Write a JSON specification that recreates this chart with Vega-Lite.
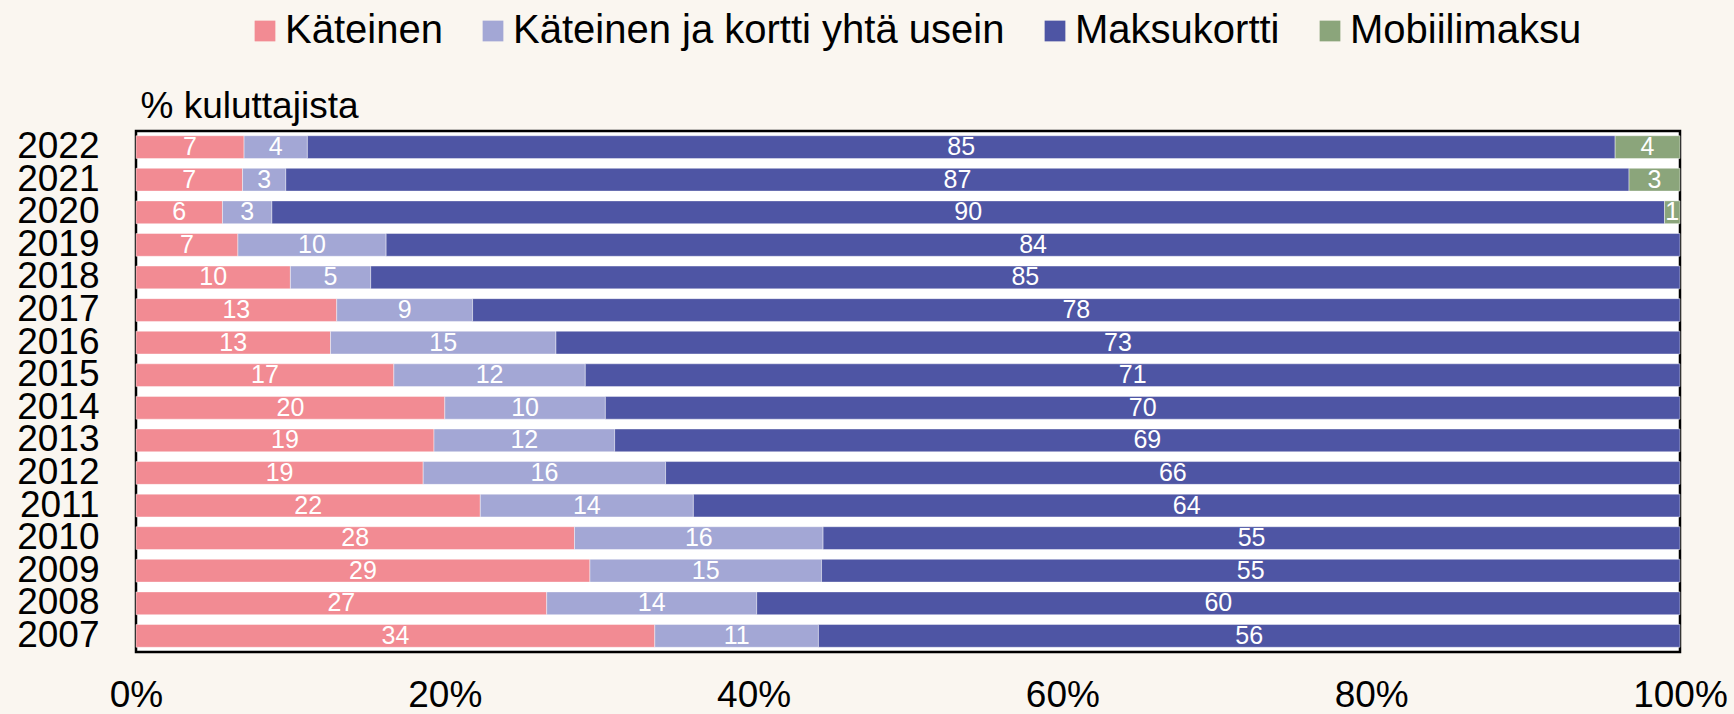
{
  "$schema": "https://vega.github.io/schema/vega-lite/v6.json",
  "autosize": {"type": "none"},
  "width": 1544,
  "height": 521,
  "padding": {"left": 136, "top": 131, "right": 54, "bottom": 62},
  "background": "#faf6f0",
  "config": {
    "font": "Liberation Sans",
    "view": {"fill": "white", "stroke": "black", "strokeWidth": 2.5}
  },
  "data": {
    "values": [
      {"year": "2022", "method": "Käteinen", "value": 7.0, "label": "7"},
      {"year": "2022", "method": "Käteinen ja kortti yhtä usein", "value": 4.1, "label": "4"},
      {"year": "2022", "method": "Maksukortti", "value": 84.7, "label": "85"},
      {"year": "2022", "method": "Mobiilimaksu", "value": 4.2, "label": "4"},
      {"year": "2021", "method": "Käteinen", "value": 6.9, "label": "7"},
      {"year": "2021", "method": "Käteinen ja kortti yhtä usein", "value": 2.8, "label": "3"},
      {"year": "2021", "method": "Maksukortti", "value": 87.0, "label": "87"},
      {"year": "2021", "method": "Mobiilimaksu", "value": 3.3, "label": "3"},
      {"year": "2020", "method": "Käteinen", "value": 5.6, "label": "6"},
      {"year": "2020", "method": "Käteinen ja kortti yhtä usein", "value": 3.2, "label": "3"},
      {"year": "2020", "method": "Maksukortti", "value": 90.2, "label": "90"},
      {"year": "2020", "method": "Mobiilimaksu", "value": 1.0, "label": "1"},
      {"year": "2019", "method": "Käteinen", "value": 6.6, "label": "7"},
      {"year": "2019", "method": "Käteinen ja kortti yhtä usein", "value": 9.6, "label": "10"},
      {"year": "2019", "method": "Maksukortti", "value": 83.8, "label": "84"},
      {"year": "2018", "method": "Käteinen", "value": 10.0, "label": "10"},
      {"year": "2018", "method": "Käteinen ja kortti yhtä usein", "value": 5.2, "label": "5"},
      {"year": "2018", "method": "Maksukortti", "value": 84.8, "label": "85"},
      {"year": "2017", "method": "Käteinen", "value": 13.0, "label": "13"},
      {"year": "2017", "method": "Käteinen ja kortti yhtä usein", "value": 8.8, "label": "9"},
      {"year": "2017", "method": "Maksukortti", "value": 78.2, "label": "78"},
      {"year": "2016", "method": "Käteinen", "value": 12.6, "label": "13"},
      {"year": "2016", "method": "Käteinen ja kortti yhtä usein", "value": 14.6, "label": "15"},
      {"year": "2016", "method": "Maksukortti", "value": 72.8, "label": "73"},
      {"year": "2015", "method": "Käteinen", "value": 16.7, "label": "17"},
      {"year": "2015", "method": "Käteinen ja kortti yhtä usein", "value": 12.4, "label": "12"},
      {"year": "2015", "method": "Maksukortti", "value": 70.9, "label": "71"},
      {"year": "2014", "method": "Käteinen", "value": 20.0, "label": "20"},
      {"year": "2014", "method": "Käteinen ja kortti yhtä usein", "value": 10.4, "label": "10"},
      {"year": "2014", "method": "Maksukortti", "value": 69.6, "label": "70"},
      {"year": "2013", "method": "Käteinen", "value": 19.3, "label": "19"},
      {"year": "2013", "method": "Käteinen ja kortti yhtä usein", "value": 11.7, "label": "12"},
      {"year": "2013", "method": "Maksukortti", "value": 69.0, "label": "69"},
      {"year": "2012", "method": "Käteinen", "value": 18.6, "label": "19"},
      {"year": "2012", "method": "Käteinen ja kortti yhtä usein", "value": 15.7, "label": "16"},
      {"year": "2012", "method": "Maksukortti", "value": 65.7, "label": "66"},
      {"year": "2011", "method": "Käteinen", "value": 22.3, "label": "22"},
      {"year": "2011", "method": "Käteinen ja kortti yhtä usein", "value": 13.8, "label": "14"},
      {"year": "2011", "method": "Maksukortti", "value": 63.9, "label": "64"},
      {"year": "2010", "method": "Käteinen", "value": 28.4, "label": "28"},
      {"year": "2010", "method": "Käteinen ja kortti yhtä usein", "value": 16.1, "label": "16"},
      {"year": "2010", "method": "Maksukortti", "value": 55.5, "label": "55"},
      {"year": "2009", "method": "Käteinen", "value": 29.4, "label": "29"},
      {"year": "2009", "method": "Käteinen ja kortti yhtä usein", "value": 15.0, "label": "15"},
      {"year": "2009", "method": "Maksukortti", "value": 55.6, "label": "55"},
      {"year": "2008", "method": "Käteinen", "value": 26.6, "label": "27"},
      {"year": "2008", "method": "Käteinen ja kortti yhtä usein", "value": 13.6, "label": "14"},
      {"year": "2008", "method": "Maksukortti", "value": 59.8, "label": "60"},
      {"year": "2007", "method": "Käteinen", "value": 33.6, "label": "34"},
      {"year": "2007", "method": "Käteinen ja kortti yhtä usein", "value": 10.6, "label": "11"},
      {"year": "2007", "method": "Maksukortti", "value": 55.8, "label": "56"}
    ]
  },
  "encoding": {
    "y": {
      "field": "year",
      "type": "ordinal",
      "sort": "descending",
      "scale": {"paddingInner": 0.3, "paddingOuter": 0.145},
      "axis": {
        "title": "% kuluttajista",
        "titleAngle": 0,
        "titleAlign": "left",
        "titleBaseline": "alphabetic",
        "titleX": 4,
        "titleY": -14,
        "titleFontSize": 37,
        "titleFontWeight": "normal",
        "titleColor": "black",
        "labelFontSize": 37,
        "labelColor": "black",
        "labelPadding": 37,
        "labelOverlap": false,
        "labelBound": false,
        "ticks": false,
        "domain": false,
        "grid": false
      }
    }
  },
  "layer": [
    {
      "mark": {"type": "bar", "stroke": "white", "strokeWidth": 0.6, "strokeOpacity": 0.7},
      "encoding": {
        "x": {
          "field": "value",
          "type": "quantitative",
          "stack": "normalize",
          "scale": {"domain": [0, 1], "nice": false},
          "axis": {
            "title": null,
            "values": [0, 0.2, 0.4, 0.6, 0.8, 1],
            "format": ".0%",
            "labelFontSize": 37,
            "labelColor": "black",
            "labelPadding": 25,
            "labelFlush": false,
            "labelBound": false,
            "labelOverlap": false,
            "ticks": false,
            "domain": false,
            "grid": false
          }
        },
        "order": {"field": "method", "type": "nominal", "sort": "ascending"},
        "color": {
          "field": "method",
          "type": "nominal",
          "scale": {
            "domain": ["Käteinen", "Käteinen ja kortti yhtä usein", "Maksukortti", "Mobiilimaksu"],
            "range": ["#f28b93", "#a3a7d5", "#4e55a4", "#8ba57b"]
          },
          "legend": {
            "title": null,
            "orient": "none",
            "direction": "horizontal",
            "legendX": 109,
            "legendY": -120,
            "padding": 0,
            "symbolType": "square",
            "symbolSize": 430,
            "symbolStrokeWidth": 0,
            "labelFontSize": 40,
            "labelColor": "black",
            "labelOffset": 0,
            "labelLimit": 1000,
            "columnPadding": 30
          }
        }
      }
    },
    {
      "mark": {"type": "text", "color": "white", "fontSize": 25, "baseline": "middle", "align": "center"},
      "encoding": {
        "x": {"field": "value", "type": "quantitative", "stack": "normalize", "bandPosition": 0.5},
        "order": {"field": "method", "type": "nominal", "sort": "ascending"},
        "detail": {"field": "method", "type": "nominal"},
        "text": {"field": "label", "type": "nominal"}
      }
    }
  ]
}
